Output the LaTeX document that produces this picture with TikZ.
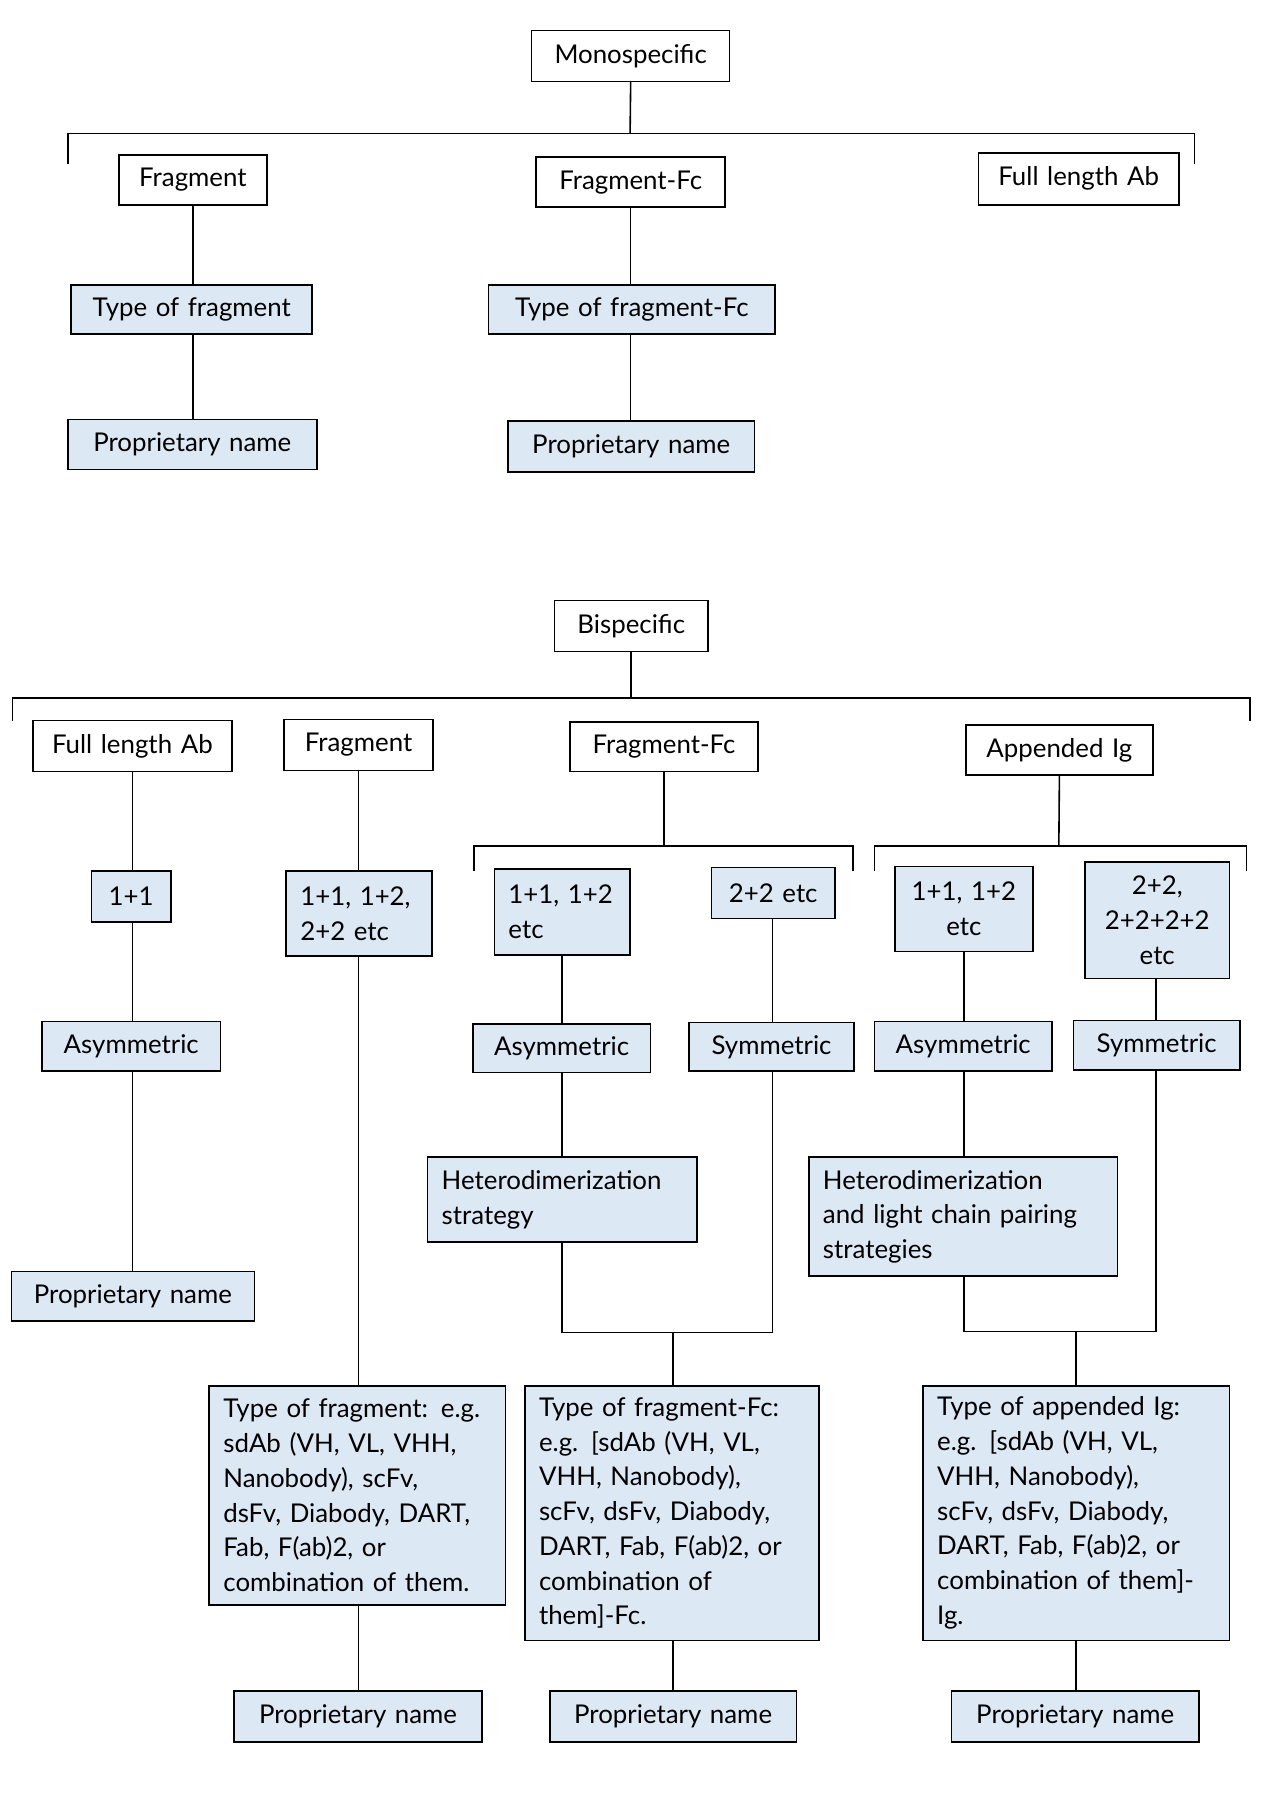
\documentclass[tikz,border=0pt]{standalone}
\usepackage{fontspec}
\setmainfont{Lato}
\definecolor{bl}{HTML}{DDE8F5}
\newcommand\bx[7]{%
  \pgfmathsetmacro\cx{(#2+#4)/2}\pgfmathsetmacro\cy{(#3+#5)/2}%
  \pgfmathsetmacro\ww{(#4-#2)*0.02}\pgfmathsetmacro\hh{(#5-#3)*0.02}%
  \pgfmathsetmacro\tw{(#4-#2)*0.02-0.5}%
  \node[b, #6, minimum width=\ww cm, minimum height=\hh cm, text width=\tw cm] (#1) at (\cx,\cy) {#7};}
\begin{document}
\begin{tikzpicture}[x=0.02cm,y=-0.02cm,
  b/.style={draw, line width=0.8pt, inner sep=0pt, font=\fontsize{13}{17.5}\selectfont},
  w/.style={fill=white, align=center},
  c/.style={fill=bl, align=center},
  l/.style={fill=bl, align=left},
  ln/.style={line width=0.8pt}]
\useasboundingbox (0,0) rectangle (1120,1585);
% monospecific
\bx{mono}{470}{27}{645}{72}{w}{Monospecific}
\bx{mfr}{105}{137}{236}{181}{w}{Fragment}
\bx{mfc}{474}{139}{641}{183}{w}{Fragment-Fc}
\bx{mfl}{865}{135}{1042}{181}{w}{Full length Ab}
\bx{mt1}{63}{252}{276}{295}{c}{Type of fragment}
\bx{mt2}{432}{252}{685}{295}{c}{Type of fragment-Fc}
\bx{mp1}{60}{371}{280}{415}{c}{Proprietary name}
\bx{mp2}{449}{372}{667}{417}{c}{Proprietary name}
\coordinate (mb) at (557,118);
\draw[ln] (mono.south) -- (mb);
\draw[ln] (60,145) -- (60,118) -- (1056,118) -- (1056,145);
\draw[ln] (mfr.south) -- (mt1.north-|mfr.south);
\draw[ln] (mt1.south-|mfr.south) -- (mp1.north-|mfr.south);
\draw[ln] (mfc.south) -- (mt2.north-|mfc.south);
\draw[ln] (mt2.south-|mfc.south) -- (mp2.north-|mfc.south);
% bispecific
\bx{bi}{490}{531}{626}{576}{w}{Bispecific}
\draw[ln] (bi.south) -- (558,617);
\draw[ln] (11,637) -- (11,617) -- (1105,617) -- (1105,637);
\bx{bfl}{29}{637}{205}{682}{w}{Full length Ab}
\bx{bfr}{251}{636}{383}{681}{w}{Fragment}
\bx{bfc}{504}{638}{670}{682}{w}{Fragment-Fc}
\bx{bai}{854}{641}{1019}{685}{w}{Appended Ig}
\draw[ln] (bfc.south) -- (587,748);
\draw[ln] (419,770) -- (419,748) -- (754,748) -- (754,770);
\draw[ln] (bai.south) -- (936,748);
\draw[ln] (773,770) -- (773,748) -- (1102,748) -- (1102,770);
\bx{a1}{81}{770}{151}{815}{c}{1+1}
\bx{b1}{253}{770}{382}{845}{l}{1+1, 1+2,\\2+2 etc}
\bx{c1}{437}{768}{557}{844}{l}{1+1, 1+2\\etc}
\bx{d1}{629}{767}{738}{812}{c}{2+2 etc}
\bx{e1}{791}{766}{913}{841}{c}{1+1, 1+2\\etc}
\bx{f1}{959}{762}{1087}{865}{c}{2+2,\\2+2+2+2\\etc}
\bx{a2}{37}{903}{195}{947}{c}{Asymmetric}
\bx{c2}{418}{905}{575}{948}{c}{Asymmetric}
\bx{d2}{609}{904}{755}{947}{c}{Symmetric}
\bx{e2}{773}{903}{930}{947}{c}{Asymmetric}
\bx{f2}{949}{902}{1096}{946}{c}{Symmetric}
\bx{c3}{378}{1023}{616}{1098}{l}{Heterodimerization\\strategy}
\bx{e3}{715}{1023}{988}{1128}{l}{Heterodimerization\\and light chain pairing\\strategies}
\bx{a3}{10}{1124}{225}{1168}{c}{Proprietary name}
\bx{b4}{185}{1225}{447}{1419}{l}{Type of fragment: e.g.\\sdAb (VH, VL, VHH,\\Nanobody), scFv,\\dsFv, Diabody, DART,\\Fab, F(ab)2, or\\combination of them.}
\bx{c4}{464}{1225}{724}{1450}{l}{Type of fragment-Fc:\\e.g. [sdAb (VH, VL,\\VHH, Nanobody),\\scFv, dsFv, Diabody,\\DART, Fab, F(ab)2, or\\combination of\\them]-Fc.}
\bx{e4}{816}{1225}{1087}{1450}{l}{Type of appended Ig:\\e.g. [sdAb (VH, VL,\\VHH, Nanobody),\\scFv, dsFv, Diabody,\\DART, Fab, F(ab)2, or\\combination of them]-\\Ig.}
\bx{b5}{207}{1495}{426}{1540}{c}{Proprietary name}
\bx{c5}{486}{1495}{704}{1540}{c}{Proprietary name}
\bx{e5}{841}{1495}{1060}{1540}{c}{Proprietary name}
% connectors
\draw[ln] (117,682) -- (a1.north-|117,0);
\draw[ln] (a1.south-|117,0) -- (a2.north-|117,0);
\draw[ln] (a2.south-|117,0) -- (a3.north-|117,0);
\draw[ln] (bfr.south-|317,0) -- (b1.north-|317,0);
\draw[ln] (b1.south-|317,0) -- (b4.north-|317,0);
\draw[ln] (b4.south-|317,0) -- (b5.north-|317,0);
\draw[ln] (c1.south-|497,0) -- (c2.north-|497,0);
\draw[ln] (c2.south-|497,0) -- (c3.north-|497,0);
\draw[ln] (d1.south-|683,0) -- (d2.north-|683,0);
\coordinate (cj) at (595,1178);
\draw[ln] (c3.south-|497,0) -- (497,1178) -- (683,1178) -- (d2.south-|683,0);
\draw[ln] (cj) -- (c4.north-|cj);
\draw[ln] (c4.south-|cj) -- (c5.north-|cj);
\draw[ln] (e1.south-|852,0) -- (e2.north-|852,0);
\draw[ln] (e2.south-|852,0) -- (e3.north-|852,0);
\draw[ln] (f1.south-|1022,0) -- (f2.north-|1022,0);
\coordinate (ej) at (951,1177);
\draw[ln] (e3.south-|852,0) -- (852,1177) -- (1022,1177) -- (f2.south-|1022,0);
\draw[ln] (ej) -- (e4.north-|ej);
\draw[ln] (e4.south-|ej) -- (e5.north-|ej);
\end{tikzpicture}
\end{document}
